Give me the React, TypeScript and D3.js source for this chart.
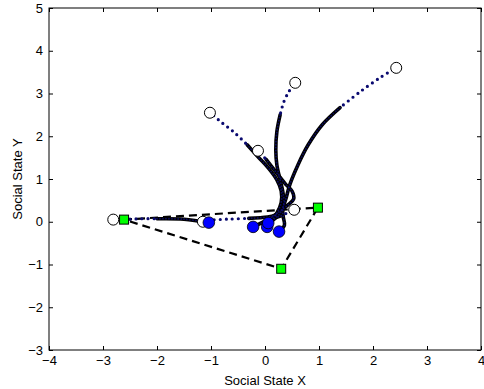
import { useEffect, useRef } from "react";
import * as d3 from "d3";

// axis ticks
const xTicks = [-4, -3, -2, -1, 0, 1, 2, 3, 4];
const yTicks = [-3, -2, -1, 0, 1, 2, 3, 4, 5];

// open circles = start states, blue circles = final states
const startPoints = [[2.43, 3.6], [0.56, 3.25], [-1.02, 2.55], [-0.13, 1.66], [-2.81, 0.05], [-1.15, 0.0], [0.54, 0.28]];
const endPoints = [[-1.04, -0.02], [-0.22, -0.12], [0.04, -0.12], [0.06, -0.03], [0.26, -0.23]];
// green squares joined by the dashed triangle
const targets = [[-2.61, 0.05], [0.98, 0.33], [0.3, -1.1]];

// trajectories: sparse (fast, dotted) part and dense (slow, solid) part
const trajA_sparse = [[2.36, 3.55], [2.13, 3.37], [1.76, 3.04], [1.39, 2.67]];
const trajA_dense = [[1.39, 2.67], [1.06, 2.27], [0.8, 1.8], [0.61, 1.33], [0.46, 0.87], [0.39, 0.55], [0.33, 0.3], [0.34, 0.1], [0.36, -0.08], [0.26, -0.23]];
const trajB_sparse = [[0.52, 3.18], [0.44, 3.04], [0.35, 2.81], [0.28, 2.5]];
const trajB_dense = [[0.28, 2.5], [0.22, 2.11], [0.2, 1.68], [0.22, 1.33], [0.28, 0.98], [0.33, 0.7], [0.35, 0.44], [0.28, 0.2], [0.16, 0.05], [0.06, -0.03]];
const trajC_sparse = [[-0.95, 2.48], [-0.8, 2.32], [-0.56, 2.08], [-0.33, 1.8]];
const trajC_dense = [[-0.33, 1.8], [-0.13, 1.52], [0.06, 1.26], [0.22, 0.98], [0.3, 0.72], [0.3, 0.45], [0.22, 0.2], [0.12, 0.02], [0.04, -0.12]];
const trajD_sparse = [[-0.08, 1.6], [0.02, 1.46]];
const trajD_dense = [[0.02, 1.46], [0.18, 1.2], [0.38, 0.88], [0.5, 0.72], [0.53, 0.53], [0.43, 0.4], [0.25, 0.22], [0.05, 0.05], [-0.22, -0.12]];
const trajE_sparse = [[-2.5, 0.06], [-2.3, 0.07], [-2.0, 0.07]];
const trajE_dense = [[-2.0, 0.07], [-1.5, 0.06], [-1.04, -0.02]];
const trajF_sparse = [[-1.05, 0.04], [-0.7, 0.06], [-0.3, 0.08]];
const trajF_dense = [[-0.3, 0.08], [0.05, 0.11], [0.22, 0.16]];
const trajG_sparse = [[0.48, 0.26], [0.4, 0.2], [0.3, 0.14]];
const trajG_dense = [[0.3, 0.14], [0.2, 0.1]];

const sparseParts = [trajA_sparse, trajB_sparse, trajC_sparse, trajD_sparse, trajE_sparse, trajF_sparse, trajG_sparse];
const denseParts = [trajA_dense, trajB_dense, trajC_dense, trajD_dense, trajE_dense, trajF_dense, trajG_dense];

export default function App() {
  const axRef = useRef(null);

  const margin = { top: 8, left: 49, right: 3, bottom: 39 };
  const W = 484, H = 389;
  const width = W - margin.left - margin.right;
  const height = H - margin.top - margin.bottom;

  const x = d3.scaleLinear().domain([-4, 4]).range([0, width]);
  const y = d3.scaleLinear().domain([-3, 5]).range([height, 0]);

  const line = d3.line<number[]>()
    .x(d => x(d[0]))
    .y(d => y(d[1]))
    .curve(d3.curveCatmullRom);

  const fmt = (v: number) => (v < 0 ? "\u2212" + Math.abs(v) : String(v));

  useEffect(() => {
    const g = d3.select(axRef.current);
    const font = "'Liberation Sans', Arial, sans-serif";

    const bottom = g.append("g").attr("transform", `translate(0, ${height})`)
      .call(d3.axisBottom(x).tickValues(xTicks).tickSize(-4).tickPadding(6).tickFormat(fmt as any));
    const top = g.append("g")
      .call(d3.axisTop(x).tickValues(xTicks).tickSize(-4).tickFormat(() => ""));
    const left = g.append("g")
      .call(d3.axisLeft(y).tickValues(yTicks).tickSize(-4).tickPadding(6).tickFormat(fmt as any));
    const right = g.append("g").attr("transform", `translate(${width}, 0)`)
      .call(d3.axisRight(y).tickValues(yTicks).tickSize(-4).tickFormat(() => ""));

    [bottom, top, left, right].forEach(a => {
      a.select(".domain").remove();
      a.selectAll("line").attr("stroke", "#000");
      a.selectAll("text").attr("fill", "#000").style("font-family", font).style("font-size", "13px");
    });

    return () => { g.selectAll("*").remove(); };
  }, []);

  return (
    <svg width={W} height={H} style={{ position: "absolute", left: 0, top: 0, background: "#fff" }}>
      <rect width={W} height={H} fill="#fff" />
      <g transform={`translate(${margin.left}, ${margin.top})`}>
        {/* dashed triangle */}
        <path
          d={line.curve(d3.curveLinearClosed)(targets as any) || ""}
          fill="none" stroke="#000" strokeWidth={2.2} strokeDasharray="8 5"
        />
        {/* dense (slow) parts */}
        {denseParts.map((p, i) => (
          <path key={"d" + i} d={d3.line<number[]>().x(d => x(d[0])).y(d => y(d[1])).curve(d3.curveCatmullRom)(p as any) || ""}
            fill="none" stroke="#000" strokeWidth={3.6} strokeLinecap="round" strokeLinejoin="round" />
        ))}
        {denseParts.map((p, i) => (
          <path key={"dd" + i} d={d3.line<number[]>().x(d => x(d[0])).y(d => y(d[1])).curve(d3.curveCatmullRom)(p as any) || ""}
            fill="none" stroke="#10108a" strokeWidth={1.8} strokeLinecap="round" strokeDasharray="0 3" opacity={0.7} />
        ))}
        {/* sparse (fast) parts, dotted */}
        {sparseParts.map((p, i) => (
          <path key={"s" + i} d={d3.line<number[]>().x(d => x(d[0])).y(d => y(d[1])).curve(d3.curveCatmullRom)(p as any) || ""}
            fill="none" stroke="#0a0a70" strokeWidth={3.2} strokeLinecap="round" strokeDasharray="0 6" />
        ))}
        {/* start states */}
        {startPoints.map((d, i) => (
          <circle key={"o" + i} cx={x(d[0])} cy={y(d[1])} r={5.5} fill="#fff" stroke="#000" strokeWidth={1} />
        ))}
        {/* final states */}
        {endPoints.map((d, i) => (
          <circle key={"e" + i} cx={x(d[0])} cy={y(d[1])} r={5.8} fill="#0000ff" stroke="#000" strokeWidth={0.8} />
        ))}
        {/* targets */}
        {targets.map((d, i) => (
          <rect key={"t" + i} x={x(d[0]) - 4.5} y={y(d[1]) - 4.5} width={9} height={9} fill="#00ff00" stroke="#000" strokeWidth={1} />
        ))}
        <g ref={axRef}></g>
        <rect x={0} y={0} width={width} height={height} fill="none" stroke="#000" strokeWidth={1} />
      </g>
      <text x={margin.left + width / 2} y={385} textAnchor="middle"
        style={{ fontFamily: "'Liberation Sans', Arial, sans-serif", fontSize: "13px" }}>Social State X</text>
      <text transform={`translate(22, ${margin.top + height / 2}) rotate(-90)`} textAnchor="middle"
        style={{ fontFamily: "'Liberation Sans', Arial, sans-serif", fontSize: "13px" }}>Social State Y</text>
    </svg>
  );
}
